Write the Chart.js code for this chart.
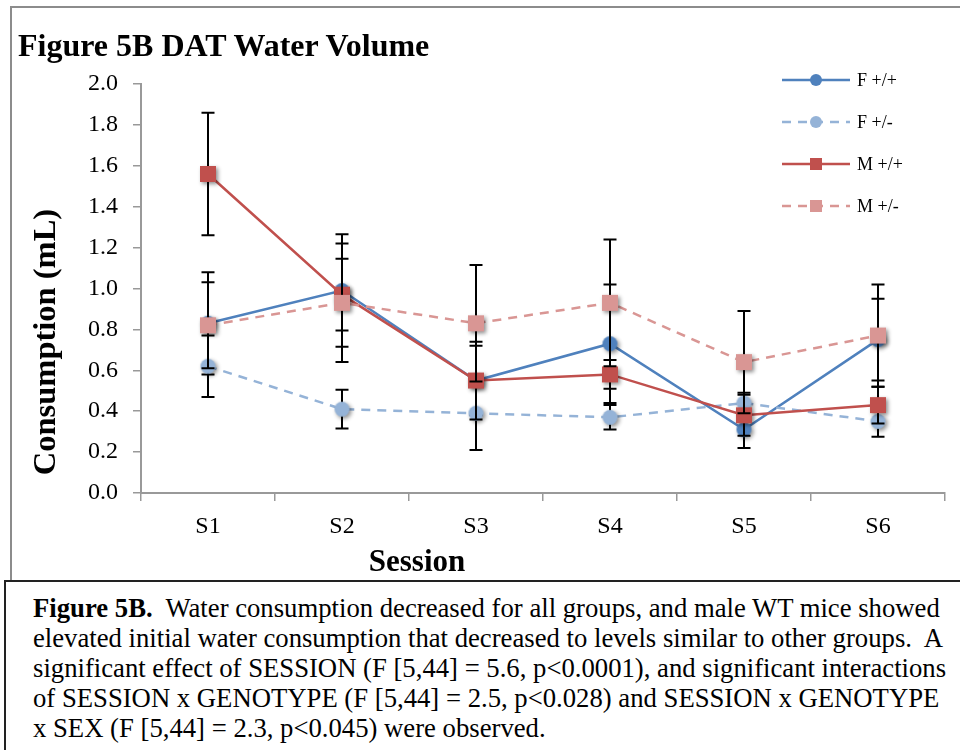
<!DOCTYPE html>
<html>
<head>
<meta charset="utf-8">
<script src="https://cdn.jsdelivr.net/npm/chart.js@4/dist/chart.umd.min.js"></script>
<style>
html,body{margin:0;padding:0;background:#fff;}
#wrap{position:relative;width:960px;height:750px;overflow:hidden;font-family:"Liberation Serif","Times New Roman",serif;color:#000;}
#chartbox{position:absolute;left:10px;top:6px;width:960px;height:574px;border-left:2px solid #8c8c8c;border-top:2px solid #8c8c8c;}
#c{position:absolute;left:0;top:0;z-index:2;}
#title{position:absolute;left:18px;top:30px;font-weight:bold;font-size:32px;line-height:31px;white-space:nowrap;z-index:3;}
#ytitle{position:absolute;left:-156px;top:324px;width:400px;text-align:center;font-weight:bold;font-size:32.5px;line-height:36px;white-space:nowrap;transform:rotate(-90deg);z-index:3;}
#xtitle{position:absolute;left:267px;top:543px;width:300px;text-align:center;font-weight:bold;font-size:31px;line-height:36px;white-space:nowrap;z-index:3;}
#caption{position:absolute;left:4px;top:580px;width:960px;height:180px;border-left:2px solid #222;border-top:2px solid #222;}
#captext{position:absolute;left:33px;top:593px;font-size:26.7px;line-height:30px;white-space:nowrap;z-index:3;}
</style>
</head>
<body>
<div id="wrap">
  <div id="chartbox"></div>
  <div id="caption"></div>
  <canvas id="c" width="960" height="581"></canvas>
  <div id="title">Figure 5B DAT Water Volume</div>
  <div id="ytitle">Consumption (mL)</div>
  <div id="xtitle">Session</div>
  <div id="captext">
    <div><b>Figure 5B.</b>&nbsp; Water consumption decreased for all groups, and male WT mice showed</div>
    <div>elevated initial water consumption that decreased to levels similar to other groups.&nbsp; A</div>
    <div>significant effect of SESSION (F [5,44] = 5.6, p&lt;0.0001), and significant interactions</div>
    <div>of SESSION x GENOTYPE (F [5,44] = 2.5, p&lt;0.028) and SESSION x GENOTYPE</div>
    <div>x SEX (F [5,44] = 2.3, p&lt;0.045) were observed.</div>
  </div>
</div>
<script>
// ---- data ----
const sessions = ['S1', 'S2', 'S3', 'S4', 'S5', 'S6'];
const seriesNames = ['F +/+', 'F +/-', 'M +/+', 'M +/-'];
const fWT    = [0.83, 0.99, 0.55, 0.73, 0.31, 0.75];
const fHet   = [0.62, 0.41, 0.39, 0.37, 0.44, 0.35];
const mWT    = [1.56, 0.97, 0.55, 0.58, 0.38, 0.43];
const mHet   = [0.82, 0.93, 0.83, 0.93, 0.64, 0.77];
const fWTErr  = [0.25, 0.275, 0.17, 0.29, 0.09, 0.20];
const fHetErr = [0.15, 0.095, 0.18, 0.06, 0.05, 0.075];
const mWTErr  = [0.30, 0.175, 0.19, 0.07, 0.10, 0.09];
const mHetErr = [0.21, 0.29, 0.285, 0.31, 0.25, 0.25];
const yTickLabels = ['0.0', '0.2', '0.4', '0.6', '0.8', '1.0', '1.2', '1.4', '1.6', '1.8', '2.0'];

// ---- styles ----
const colors = ['#4F81BD', '#95B3D7', '#C0504D', '#D99694'];
const shapes = ['circle', 'circle', 'rect', 'rect'];
const dashes = [[], [9, 7], [], [9, 7]];

function makeMarker(shape, color, size, shadow) {
  const pad = 8;
  const c = document.createElement('canvas');
  c.width = size + pad * 2; c.height = size + pad * 2;
  const ctx = c.getContext('2d');
  if (shadow) {
    ctx.shadowColor = 'rgba(0,0,0,0.45)';
    ctx.shadowBlur = 4; ctx.shadowOffsetX = 2; ctx.shadowOffsetY = 2;
  }
  ctx.fillStyle = color;
  const cx = c.width / 2, cy = c.height / 2;
  if (shape === 'circle') { ctx.beginPath(); ctx.arc(cx, cy, size / 2, 0, Math.PI * 2); ctx.fill(); }
  else { ctx.fillRect(cx - size / 2, cy - size / 2, size, size); }
  return c;
}

const values = [fWT, fHet, mWT, mHet];
const errs = [fWTErr, fHetErr, mWTErr, mHetErr];
const datasets = values.map((v, i) => ({
  label: seriesNames[i],
  data: v,
  errors: errs[i],
  borderColor: colors[i],
  backgroundColor: colors[i],
  borderWidth: 2.5,
  borderDash: dashes[i],
  pointStyle: makeMarker(shapes[i], colors[i], shapes[i] === 'circle' ? 15 : 16, true),
  legendMarker: makeMarker(shapes[i], colors[i], 12, false),
  tension: 0,
  fill: false,
  order: 3 - i
}));

const errorBars = {
  id: 'errorBars',
  beforeDatasetDraw(chart, args) {
    const ds = chart.data.datasets[args.index];
    if (!ds.errors) return;
    const ctx = chart.ctx, y = chart.scales.y;
    ctx.save();
    ctx.strokeStyle = '#000';
    ctx.lineWidth = 2;
    ctx.setLineDash([]);
    args.meta.data.forEach((pt, i) => {
      const v = ds.data[i], e = ds.errors[i];
      const x = pt.x, yt = y.getPixelForValue(v + e), yb = y.getPixelForValue(v - e);
      ctx.beginPath();
      ctx.moveTo(x, yt); ctx.lineTo(x, yb);
      ctx.moveTo(x - 6.5, yt); ctx.lineTo(x + 6.5, yt);
      ctx.moveTo(x - 6.5, yb); ctx.lineTo(x + 6.5, yb);
      ctx.stroke();
    });
    ctx.restore();
  }
};

const sideLegend = {
  id: 'sideLegend',
  afterDraw(chart) {
    const ctx = chart.ctx;
    chart.data.datasets.forEach((ds, i) => {
      const yy = 80 + 42 * i;
      ctx.save();
      ctx.strokeStyle = ds.borderColor;
      ctx.lineWidth = 2.5;
      ctx.setLineDash(ds.borderDash || []);
      ctx.beginPath(); ctx.moveTo(782, yy); ctx.lineTo(850, yy); ctx.stroke();
      const m = ds.legendMarker;
      ctx.drawImage(m, 816 - m.width / 2, yy - m.height / 2);
      ctx.fillStyle = '#000';
      ctx.font = '18px "Liberation Serif", "Times New Roman", serif';
      ctx.textBaseline = 'middle';
      ctx.textAlign = 'left';
      ctx.fillText(ds.label, 857, yy + 1);
      ctx.restore();
    });
  }
};

new Chart(document.getElementById('c'), {
  type: 'line',
  data: { labels: sessions, datasets: datasets },
  options: {
    responsive: false,
    animation: false,
    devicePixelRatio: 1,
    layout: { padding: { top: 84, right: 15, bottom: 0, left: 0 } },
    plugins: { legend: { display: false }, tooltip: { enabled: false }, title: { display: false } },
    elements: { point: { radius: 8, hoverRadius: 8 } },
    scales: {
      x: {
        type: 'category',
        offset: true,
        afterFit(s) { s.height = 88; },
        grid: { offset: true, drawOnChartArea: false, drawTicks: true, tickLength: 8, color: '#999', lineWidth: 1.5 },
        border: { color: '#999', width: 2 },
        ticks: { color: '#000', padding: 11, font: { family: '"Liberation Serif", "Times New Roman", serif', size: 24 } }
      },
      y: {
        min: 0, max: 2,
        afterFit(s) { s.width = 141; },
        grid: { drawOnChartArea: false, drawTicks: true, tickLength: 8, color: '#999', lineWidth: 1.5 },
        border: { color: '#999', width: 2 },
        ticks: {
          stepSize: 0.2, color: '#000', padding: 15,
          font: { family: '"Liberation Serif", "Times New Roman", serif', size: 24 },
          callback: (v, i) => yTickLabels[i]
        }
      }
    }
  },
  plugins: [errorBars, sideLegend]
});
</script>
</body>
</html>
